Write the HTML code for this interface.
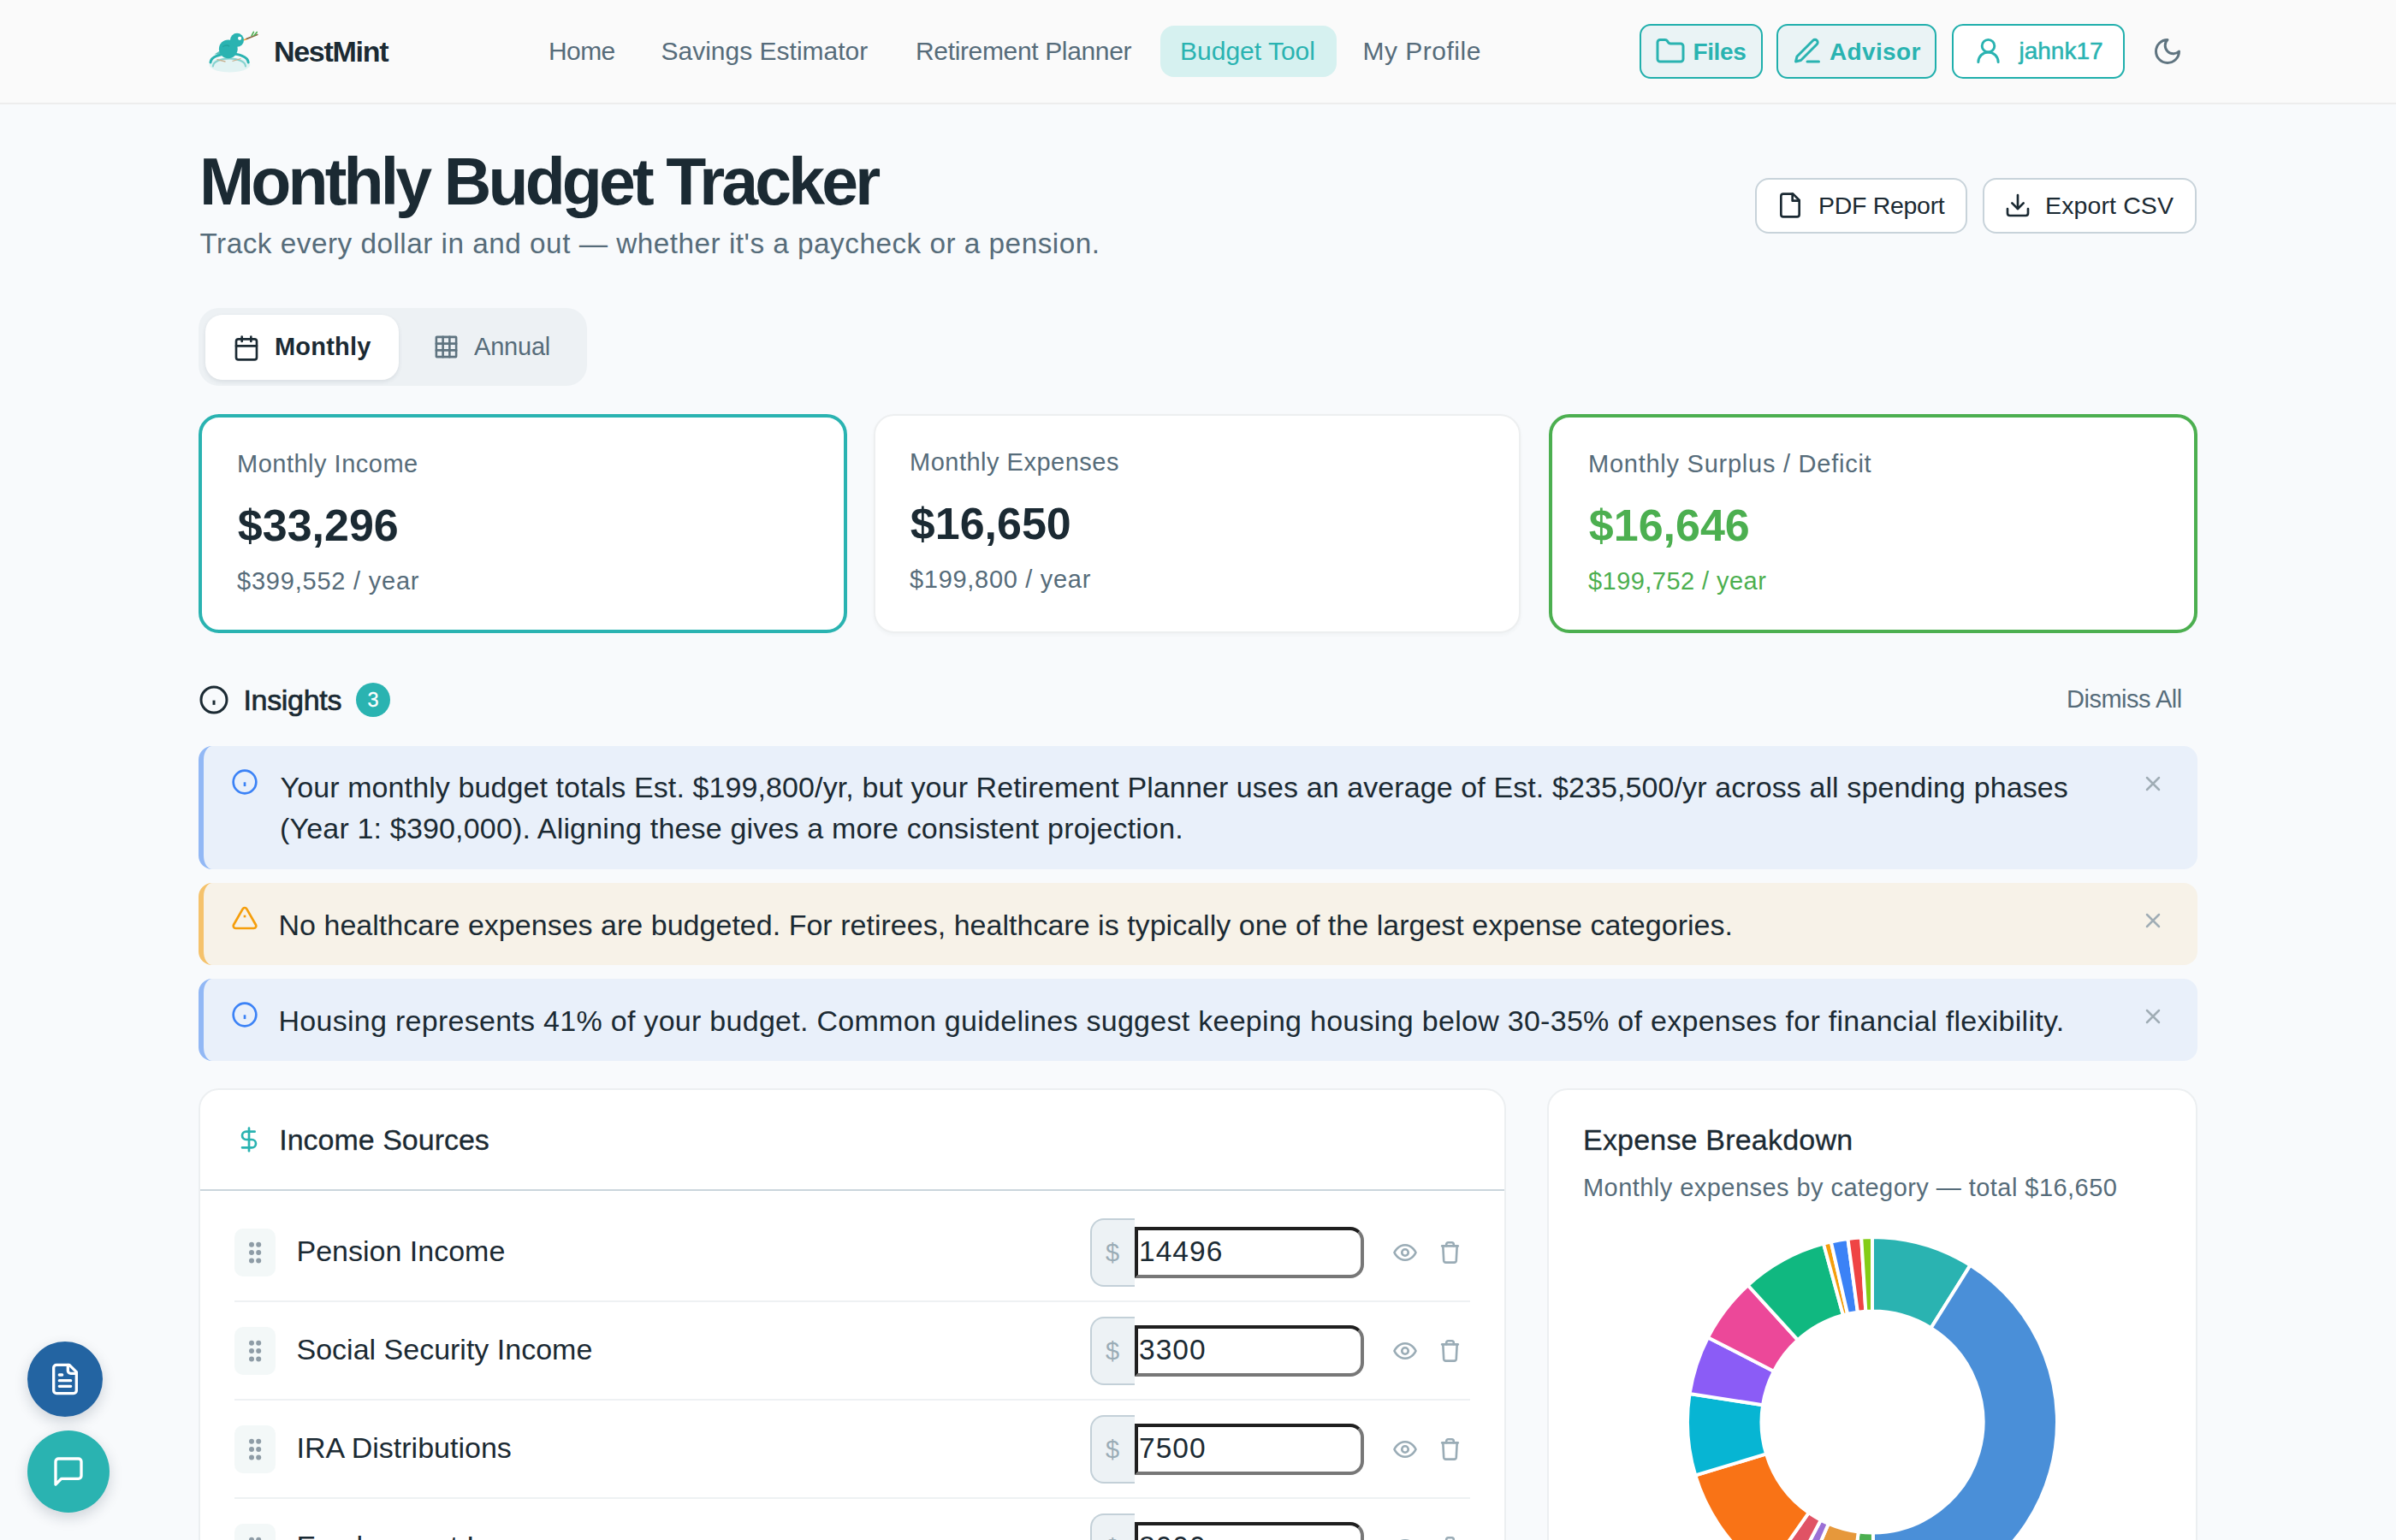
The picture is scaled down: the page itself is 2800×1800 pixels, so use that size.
<!DOCTYPE html>
<html><head><meta charset="utf-8">
<style>
*{box-sizing:border-box;margin:0;padding:0}
html,body{width:2800px;height:1800px;overflow:hidden}
body{background:#f8fafc;font-family:"Liberation Sans", sans-serif;color:#1b2a33;position:relative}
.a{position:absolute;white-space:nowrap;line-height:1}
svg{position:absolute;overflow:visible}
@media (max-width:2000px){html{zoom:0.5}}
</style></head><body>
<div style="position:absolute;left:0px;top:0px;width:2800px;height:120px;background:#fafafa"></div>
<div style="position:absolute;left:0px;top:120px;width:2800px;height:2px;background:#ededed"></div>
<svg style="left:238px;top:30px" width="70" height="60" viewBox="0 0 70 60">
<ellipse cx="30.4" cy="45.8" rx="24" ry="8.6" fill="#e2f3f3"/>
<path d="M10.9 47.5 C11.5 35.5 48.4 35.5 49 47.5" fill="none" stroke="#86d3cf" stroke-width="2.2" stroke-linecap="round"/>
<path d="M15.5 39.5 L25.5 42 M33.5 41.5 L43.5 38.5" stroke="#c9b08f" stroke-width="1.3"/>
<path d="M12.5 33.5 L18.7 29.6 L20 33" fill="#5bbfbb"/>
<path d="M8 42.9 C9 29.5 51.2 29.5 52.2 42.9" fill="none" stroke="#2ab3b1" stroke-width="3" stroke-linecap="round"/>
<circle cx="28.8" cy="27.3" r="10.9" fill="#2ab3b1"/>
<circle cx="39" cy="16.8" r="8" fill="#2ab3b1"/>
<path d="M30 24.2 Q27.3 21.5 22.2 24.5" fill="none" stroke="#22a29f" stroke-width="1.4"/>
<circle cx="42.1" cy="14.8" r="2.1" fill="#fff"/>
<path d="M47 16.8 L50.3 15.6" stroke="#f0a030" stroke-width="1.6"/>
<path d="M50.3 15.3 L62.7 10.5" stroke="#8b6b47" stroke-width="1.8" stroke-linecap="round"/>
<path d="M56.1 11.7 L58.4 7.4 M59.2 11.3 L62.3 7.6" stroke="#4caf50" stroke-width="1.6" stroke-linecap="round"/>
</svg>
<div class="a" style="left:320.0px;top:42.9px;font-size:34px;color:#1b2a33;font-weight:bold;letter-spacing:-1.3px">NestMint</div>
<div style="position:absolute;left:1356px;top:30px;width:206px;height:60px;background:#d6f1f0;border-radius:16px"></div>
<div class="a" style="left:641.0px;top:44.5px;font-size:30px;color:#566c7a;letter-spacing:-0.6px">Home</div>
<div class="a" style="left:772.5px;top:44.5px;font-size:30px;color:#566c7a">Savings Estimator</div>
<div class="a" style="left:1070.0px;top:44.5px;font-size:30px;color:#566c7a;letter-spacing:-0.35px">Retirement Planner</div>
<div class="a" style="left:1379.0px;top:44.5px;font-size:30px;color:#2ab3b1">Budget Tool</div>
<div class="a" style="left:1592.5px;top:44.5px;font-size:30px;color:#566c7a;letter-spacing:0.5px">My Profile</div>
<div style="position:absolute;left:1916px;top:28px;width:144px;height:64px;border:2.2px solid #20afac;border-radius:13px;background:#eaf3f5"></div>
<div style="position:absolute;left:2076px;top:28px;width:187px;height:64px;border:2.2px solid #20afac;border-radius:13px;background:#eaf3f5"></div>
<div style="position:absolute;left:2281px;top:28px;width:202px;height:64px;border:2.2px solid #20afac;border-radius:13px;background:#fff"></div>
<svg style="left:1934px;top:42px" width="36" height="36" viewBox="0 0 24 24" fill="none" stroke="#2ab3b1" stroke-width="2" stroke-linecap="round" stroke-linejoin="round" ><path d="M20 20a2 2 0 0 0 2-2V8a2 2 0 0 0-2-2h-7.9a2 2 0 0 1-1.69-.9L9.6 3.9A2 2 0 0 0 7.93 3H4a2 2 0 0 0-2 2v13a2 2 0 0 0 2 2Z"/></svg>
<div class="a" style="left:1978.5px;top:46.8px;font-size:28px;color:#2ab3b1;font-weight:bold;letter-spacing:-0.4px">Files</div>
<svg style="left:2094px;top:42px" width="36" height="36" viewBox="0 0 24 24" fill="none" stroke="#2ab3b1" stroke-width="2" stroke-linecap="round" stroke-linejoin="round" ><path d="M12 20h9"/><path d="M16.5 3.5a2.12 2.12 0 0 1 3 3L7 19l-4 1 1-4Z"/></svg>
<div class="a" style="left:2138.0px;top:46.8px;font-size:28px;color:#2ab3b1;font-weight:bold;letter-spacing:0.35px">Advisor</div>
<svg style="left:2306px;top:41.5px" width="35" height="35" viewBox="0 0 24 24" fill="none" stroke="#2ab3b1" stroke-width="2" stroke-linecap="round" stroke-linejoin="round" ><circle cx="12" cy="8" r="5"/><path d="M20 21a8 8 0 0 0-16 0"/></svg>
<div class="a" style="left:2359.5px;top:46.3px;font-size:28px;color:#2ab3b1;-webkit-text-stroke:0.5px #2ab3b1">jahnk17</div>
<svg style="left:2515px;top:42px" width="36" height="36" viewBox="0 0 24 24" fill="none" stroke="#5f7480" stroke-width="2" stroke-linecap="round" stroke-linejoin="round" ><path d="M12 3a6 6 0 0 0 9 9 9 9 0 1 1-9-9Z"/></svg>
<div class="a" style="left:233.0px;top:174.4px;font-size:77px;color:#1b2a33;font-weight:bold;letter-spacing:-3.85px">Monthly Budget Tracker</div>
<div class="a" style="left:233.5px;top:267.7px;font-size:33.3px;color:#566c7a;letter-spacing:0.5px">Track every dollar in and out — whether it's a paycheck or a pension.</div>
<div style="position:absolute;left:2051px;top:208px;width:248px;height:65px;background:#fff;border:2px solid #c8d3da;border-radius:16px"></div>
<div style="position:absolute;left:2317px;top:208px;width:250px;height:65px;background:#fff;border:2px solid #c8d3da;border-radius:16px"></div>
<svg style="left:2076px;top:223.5px" width="32" height="32" viewBox="0 0 24 24" fill="none" stroke="#1b2a33" stroke-width="2" stroke-linecap="round" stroke-linejoin="round" ><path d="M14.5 2H6a2 2 0 0 0-2 2v16a2 2 0 0 0 2 2h12a2 2 0 0 0 2-2V7.5L14.5 2z"/><path d="M14 2v6h6"/></svg>
<div class="a" style="left:2125.0px;top:225.7px;font-size:28.5px;color:#1b2a33;letter-spacing:-0.3px">PDF Report</div>
<svg style="left:2342px;top:223.5px" width="32" height="32" viewBox="0 0 24 24" fill="none" stroke="#1b2a33" stroke-width="2" stroke-linecap="round" stroke-linejoin="round" ><path d="M21 15v4a2 2 0 0 1-2 2H5a2 2 0 0 1-2-2v-4"/><path d="M7 10l5 5 5-5"/><path d="M12 15V3"/></svg>
<div class="a" style="left:2390.0px;top:225.7px;font-size:28.5px;color:#1b2a33;letter-spacing:0.12px">Export CSV</div>
<div style="position:absolute;left:232px;top:360px;width:454px;height:91px;background:#edf1f4;border-radius:24px"></div>
<div style="position:absolute;left:240px;top:368px;width:226px;height:76px;background:#fff;border-radius:20px;box-shadow:0 2px 5px rgba(30,50,70,.10)"></div>
<svg style="left:272px;top:391px" width="32" height="32" viewBox="0 0 24 24" fill="none" stroke="#1b2a33" stroke-width="2" stroke-linecap="round" stroke-linejoin="round" ><rect x="3" y="4" width="18" height="18" rx="2"/><path d="M16 2v4M8 2v4M3 10h18"/></svg>
<div class="a" style="left:321.0px;top:391.4px;font-size:29px;color:#1b2a33;font-weight:bold;letter-spacing:0.2px">Monthly</div>
<svg style="left:506.1px;top:390.4px" width="31" height="31" viewBox="0 0 24 24" fill="none" stroke="#5f7480" stroke-width="2" stroke-linecap="round" stroke-linejoin="round" stroke-linecap="butt"><rect x="3" y="3" width="18" height="18" rx="0.5"/><path d="M3 9h18M3 15h18M9 3v18M15 3v18"/></svg>
<div class="a" style="left:554.0px;top:391.4px;font-size:29px;color:#566c7a;letter-spacing:-0.2px">Annual</div>
<div style="position:absolute;left:232px;top:484px;width:758px;height:256px;background:#fff;border:4px solid #2ab3b1;border-radius:24px"></div>
<div style="position:absolute;left:1021px;top:484px;width:756px;height:256px;background:#fff;border:2px solid #edeff0;border-radius:24px;box-shadow:0 2px 4px rgba(30,40,50,.04)"></div>
<div style="position:absolute;left:1810px;top:484px;width:758px;height:256px;background:#fff;border:4px solid #4caf50;border-radius:24px"></div>
<div class="a" style="left:277.0px;top:527.7px;font-size:29px;color:#566c7a;letter-spacing:0.5px">Monthly Income</div>
<div class="a" style="left:277.8px;top:588.1px;font-size:52px;color:#1b2a33;font-weight:bold">$33,296</div>
<div class="a" style="left:277.0px;top:665.4px;font-size:29px;color:#566c7a;letter-spacing:0.78px">$399,552 / year</div>
<div class="a" style="left:1063.0px;top:525.5px;font-size:29px;color:#566c7a;letter-spacing:0.5px">Monthly Expenses</div>
<div class="a" style="left:1063.8px;top:585.9px;font-size:52px;color:#1b2a33;font-weight:bold">$16,650</div>
<div class="a" style="left:1063.0px;top:663.2px;font-size:29px;color:#566c7a;letter-spacing:0.7px">$199,800 / year</div>
<div class="a" style="left:1856.0px;top:527.7px;font-size:29px;color:#566c7a;letter-spacing:0.75px">Monthly Surplus / Deficit</div>
<div class="a" style="left:1856.8px;top:588.1px;font-size:52px;color:#4caf50;font-weight:bold">$16,646</div>
<div class="a" style="left:1856.0px;top:665.4px;font-size:29px;color:#4caf50;letter-spacing:0.45px">$199,752 / year</div>
<svg style="left:232px;top:800px" width="36" height="36" viewBox="0 0 24 24" fill="none" stroke="#1b2a33" stroke-width="2" stroke-linecap="round" stroke-linejoin="round" ><circle cx="12" cy="12" r="10"/><path d="M12 12.4v3.5" stroke-linecap="butt"/></svg>
<div class="a" style="left:284.4px;top:801.1px;font-size:34px;color:#1b2a33;letter-spacing:-0.3px;-webkit-text-stroke:0.7px #1b2a33">Insights</div>
<div style="position:absolute;left:416px;top:798px;width:40px;height:40px;background:#2ab3b1;border-radius:50%"></div>
<div class="a" style="left:429.5px;top:806.5px;font-size:23.5px;color:#fff;-webkit-text-stroke:0.3px #fff">3</div>
<div class="a" style="left:2415.0px;top:803.4px;font-size:29px;color:#566c7a;letter-spacing:-0.5px">Dismiss All</div>
<div style="position:absolute;left:232px;top:872px;width:2336px;height:144px;background:#e9f0fa;border-left:6px solid #92b8f5;border-radius:16px"></div>
<svg style="left:270px;top:898px" width="32" height="32" viewBox="0 0 24 24" fill="none" stroke="#3b82f6" stroke-width="2" stroke-linecap="round" stroke-linejoin="round" ><circle cx="12" cy="12" r="10"/><path d="M12 12.2v3.6" stroke-linecap="butt"/></svg>
<div class="a" style="left:327.5px;top:903.3px;font-size:34px;color:#1b2a33;letter-spacing:0.1px">Your monthly budget totals Est. $199,800/yr, but your Retirement Planner uses an average of Est. $235,500/yr across all spending phases</div>
<div class="a" style="left:327.0px;top:950.9px;font-size:34px;color:#1b2a33;letter-spacing:0.17px">(Year 1: $390,000). Aligning these gives a more consistent projection.</div>
<svg style="left:2502px;top:902px" width="28" height="28" viewBox="0 0 24 24" fill="none" stroke="#a0adb5" stroke-width="2.15" stroke-linecap="round" stroke-linejoin="round" ><path d="M18 6 6 18M6 6l12 12"/></svg>
<div style="position:absolute;left:232px;top:1032px;width:2336px;height:96px;background:#f7f2e8;border-left:6px solid #f5c26b;border-radius:16px"></div>
<svg style="left:270px;top:1057px" width="32" height="32" viewBox="0 0 24 24" fill="none" stroke="#f59e0b" stroke-width="2" stroke-linecap="round" stroke-linejoin="round" ><path d="m21.73 18-8-14a2 2 0 0 0-3.48 0l-8 14A2 2 0 0 0 4 21h16a2 2 0 0 0 1.73-3Z"/><path d="M12 9.5v2" stroke-linecap="butt"/></svg>
<div class="a" style="left:325.5px;top:1063.6px;font-size:34px;color:#1b2a33;letter-spacing:0.02px">No healthcare expenses are budgeted. For retirees, healthcare is typically one of the largest expense categories.</div>
<svg style="left:2502px;top:1062px" width="28" height="28" viewBox="0 0 24 24" fill="none" stroke="#a0adb5" stroke-width="2.15" stroke-linecap="round" stroke-linejoin="round" ><path d="M18 6 6 18M6 6l12 12"/></svg>
<div style="position:absolute;left:232px;top:1144px;width:2336px;height:96px;background:#e9f0fa;border-left:6px solid #92b8f5;border-radius:16px"></div>
<svg style="left:270px;top:1170px" width="32" height="32" viewBox="0 0 24 24" fill="none" stroke="#3b82f6" stroke-width="2" stroke-linecap="round" stroke-linejoin="round" ><circle cx="12" cy="12" r="10"/><path d="M12 12.2v3.6" stroke-linecap="butt"/></svg>
<div class="a" style="left:325.5px;top:1175.6px;font-size:34px;color:#1b2a33;letter-spacing:0.28px">Housing represents 41% of your budget. Common guidelines suggest keeping housing below 30-35% of expenses for financial flexibility.</div>
<svg style="left:2502px;top:1174px" width="28" height="28" viewBox="0 0 24 24" fill="none" stroke="#a0adb5" stroke-width="2.15" stroke-linecap="round" stroke-linejoin="round" ><path d="M18 6 6 18M6 6l12 12"/></svg>
<div style="position:absolute;left:232px;top:1272px;width:1528px;height:700px;background:#fff;border:2px solid #eceff1;border-radius:24px"></div>
<svg style="left:275px;top:1316px" width="32" height="32" viewBox="0 0 24 24" fill="none" stroke="#2ab3b1" stroke-width="2" stroke-linecap="round" stroke-linejoin="round" ><path d="M12 2v20"/><path d="M17 5H9.5a3.5 3.5 0 0 0 0 7h5a3.5 3.5 0 0 1 0 7H6"/></svg>
<div class="a" style="left:326.2px;top:1314.8px;font-size:34px;color:#1b2a33;-webkit-text-stroke:0.3px #1b2a33">Income Sources</div>
<div style="position:absolute;left:234px;top:1390px;width:1524px;height:2px;background:#cad5dc"></div>
<div style="position:absolute;left:274px;top:1436px;width:48px;height:56px;background:#f3f8f8;border-radius:10px"></div>
<svg style="left:284px;top:1448px" width="28" height="32" viewBox="0 0 28 32" fill="#8e9ca6"><circle cx="10" cy="6.7" r="3"/><circle cx="18.2" cy="6.7" r="3"/><circle cx="10" cy="16" r="3"/><circle cx="18.2" cy="16" r="3"/><circle cx="10" cy="25.5" r="3"/><circle cx="18.2" cy="25.5" r="3"/></svg>
<div class="a" style="left:346.5px;top:1445.2px;font-size:34px;color:#1b2a33">Pension Income</div>
<div style="position:absolute;left:1274px;top:1424px;width:52px;height:80px;background:#edf2f5;border:2px solid #c3d0d8;border-right:none;border-radius:16px 0 0 16px"></div>
<div class="a" style="left:1292.0px;top:1449.5px;font-size:29px;color:#9aacb6">$</div>
<div style="position:absolute;left:1326px;top:1434px;width:268px;height:60px;background:#fff;border-style:solid;border-width:4px;border-color:#1f1f1f #777 #777 #1f1f1f;border-radius:0 16px 16px 0"></div>
<div class="a" style="left:1331.0px;top:1445.5px;font-size:33.5px;color:#1b2a33;letter-spacing:1.05px">14496</div>
<svg style="left:1627px;top:1449px" width="30" height="30" viewBox="0 0 24 24" fill="none" stroke="#9aacb6" stroke-width="2.1" stroke-linecap="round" stroke-linejoin="round"><path d="M2 12s3-7 10-7 10 7 10 7-3 7-10 7-10-7-10-7Z"/><circle cx="12" cy="12" r="3"/></svg>
<svg style="left:1683.5px;top:1451.2px" width="21" height="26" viewBox="0 0 21 26" fill="none" stroke="#9aacb6" stroke-width="2.6" stroke-linecap="round" stroke-linejoin="round"><path d="M1.2 5.4H19.8"/><path d="M2.3 5.4 L3.2 22.4 Q3.4 24.6 5.6 24.6 H15.4 Q17.6 24.6 17.8 22.4 L18.7 5.4"/><path d="M6.2 5.2 V3.6 Q6.2 1.3 8.5 1.3 H12.5 Q14.8 1.3 14.8 3.6 V5.2"/></svg>
<div style="position:absolute;left:274px;top:1520px;width:1444px;height:2px;background:#eef1f3"></div>
<div style="position:absolute;left:274px;top:1551px;width:48px;height:56px;background:#f3f8f8;border-radius:10px"></div>
<svg style="left:284px;top:1563px" width="28" height="32" viewBox="0 0 28 32" fill="#8e9ca6"><circle cx="10" cy="6.7" r="3"/><circle cx="18.2" cy="6.7" r="3"/><circle cx="10" cy="16" r="3"/><circle cx="18.2" cy="16" r="3"/><circle cx="10" cy="25.5" r="3"/><circle cx="18.2" cy="25.5" r="3"/></svg>
<div class="a" style="left:346.5px;top:1560.2px;font-size:34px;color:#1b2a33">Social Security Income</div>
<div style="position:absolute;left:1274px;top:1539px;width:52px;height:80px;background:#edf2f5;border:2px solid #c3d0d8;border-right:none;border-radius:16px 0 0 16px"></div>
<div class="a" style="left:1292.0px;top:1564.5px;font-size:29px;color:#9aacb6">$</div>
<div style="position:absolute;left:1326px;top:1549px;width:268px;height:60px;background:#fff;border-style:solid;border-width:4px;border-color:#1f1f1f #777 #777 #1f1f1f;border-radius:0 16px 16px 0"></div>
<div class="a" style="left:1331.0px;top:1560.5px;font-size:33.5px;color:#1b2a33;letter-spacing:1.05px">3300</div>
<svg style="left:1627px;top:1564px" width="30" height="30" viewBox="0 0 24 24" fill="none" stroke="#9aacb6" stroke-width="2.1" stroke-linecap="round" stroke-linejoin="round"><path d="M2 12s3-7 10-7 10 7 10 7-3 7-10 7-10-7-10-7Z"/><circle cx="12" cy="12" r="3"/></svg>
<svg style="left:1683.5px;top:1566.2px" width="21" height="26" viewBox="0 0 21 26" fill="none" stroke="#9aacb6" stroke-width="2.6" stroke-linecap="round" stroke-linejoin="round"><path d="M1.2 5.4H19.8"/><path d="M2.3 5.4 L3.2 22.4 Q3.4 24.6 5.6 24.6 H15.4 Q17.6 24.6 17.8 22.4 L18.7 5.4"/><path d="M6.2 5.2 V3.6 Q6.2 1.3 8.5 1.3 H12.5 Q14.8 1.3 14.8 3.6 V5.2"/></svg>
<div style="position:absolute;left:274px;top:1635px;width:1444px;height:2px;background:#eef1f3"></div>
<div style="position:absolute;left:274px;top:1666px;width:48px;height:56px;background:#f3f8f8;border-radius:10px"></div>
<svg style="left:284px;top:1678px" width="28" height="32" viewBox="0 0 28 32" fill="#8e9ca6"><circle cx="10" cy="6.7" r="3"/><circle cx="18.2" cy="6.7" r="3"/><circle cx="10" cy="16" r="3"/><circle cx="18.2" cy="16" r="3"/><circle cx="10" cy="25.5" r="3"/><circle cx="18.2" cy="25.5" r="3"/></svg>
<div class="a" style="left:346.5px;top:1675.2px;font-size:34px;color:#1b2a33">IRA Distributions</div>
<div style="position:absolute;left:1274px;top:1654px;width:52px;height:80px;background:#edf2f5;border:2px solid #c3d0d8;border-right:none;border-radius:16px 0 0 16px"></div>
<div class="a" style="left:1292.0px;top:1679.5px;font-size:29px;color:#9aacb6">$</div>
<div style="position:absolute;left:1326px;top:1664px;width:268px;height:60px;background:#fff;border-style:solid;border-width:4px;border-color:#1f1f1f #777 #777 #1f1f1f;border-radius:0 16px 16px 0"></div>
<div class="a" style="left:1331.0px;top:1675.5px;font-size:33.5px;color:#1b2a33;letter-spacing:1.05px">7500</div>
<svg style="left:1627px;top:1679px" width="30" height="30" viewBox="0 0 24 24" fill="none" stroke="#9aacb6" stroke-width="2.1" stroke-linecap="round" stroke-linejoin="round"><path d="M2 12s3-7 10-7 10 7 10 7-3 7-10 7-10-7-10-7Z"/><circle cx="12" cy="12" r="3"/></svg>
<svg style="left:1683.5px;top:1681.2px" width="21" height="26" viewBox="0 0 21 26" fill="none" stroke="#9aacb6" stroke-width="2.6" stroke-linecap="round" stroke-linejoin="round"><path d="M1.2 5.4H19.8"/><path d="M2.3 5.4 L3.2 22.4 Q3.4 24.6 5.6 24.6 H15.4 Q17.6 24.6 17.8 22.4 L18.7 5.4"/><path d="M6.2 5.2 V3.6 Q6.2 1.3 8.5 1.3 H12.5 Q14.8 1.3 14.8 3.6 V5.2"/></svg>
<div style="position:absolute;left:274px;top:1750px;width:1444px;height:2px;background:#eef1f3"></div>
<div style="position:absolute;left:274px;top:1781px;width:48px;height:56px;background:#f3f8f8;border-radius:10px"></div>
<svg style="left:284px;top:1793px" width="28" height="32" viewBox="0 0 28 32" fill="#8e9ca6"><circle cx="10" cy="6.7" r="3"/><circle cx="18.2" cy="6.7" r="3"/><circle cx="10" cy="16" r="3"/><circle cx="18.2" cy="16" r="3"/><circle cx="10" cy="25.5" r="3"/><circle cx="18.2" cy="25.5" r="3"/></svg>
<div class="a" style="left:346.5px;top:1790.2px;font-size:34px;color:#1b2a33">Employment Income</div>
<div style="position:absolute;left:1274px;top:1769px;width:52px;height:80px;background:#edf2f5;border:2px solid #c3d0d8;border-right:none;border-radius:16px 0 0 16px"></div>
<div class="a" style="left:1292.0px;top:1794.5px;font-size:29px;color:#9aacb6">$</div>
<div style="position:absolute;left:1326px;top:1779px;width:268px;height:60px;background:#fff;border-style:solid;border-width:4px;border-color:#1f1f1f #777 #777 #1f1f1f;border-radius:0 16px 16px 0"></div>
<div class="a" style="left:1331.0px;top:1790.5px;font-size:33.5px;color:#1b2a33;letter-spacing:1.05px">8000</div>
<svg style="left:1627px;top:1794px" width="30" height="30" viewBox="0 0 24 24" fill="none" stroke="#9aacb6" stroke-width="2.1" stroke-linecap="round" stroke-linejoin="round"><path d="M2 12s3-7 10-7 10 7 10 7-3 7-10 7-10-7-10-7Z"/><circle cx="12" cy="12" r="3"/></svg>
<svg style="left:1683.5px;top:1796.2px" width="21" height="26" viewBox="0 0 21 26" fill="none" stroke="#9aacb6" stroke-width="2.6" stroke-linecap="round" stroke-linejoin="round"><path d="M1.2 5.4H19.8"/><path d="M2.3 5.4 L3.2 22.4 Q3.4 24.6 5.6 24.6 H15.4 Q17.6 24.6 17.8 22.4 L18.7 5.4"/><path d="M6.2 5.2 V3.6 Q6.2 1.3 8.5 1.3 H12.5 Q14.8 1.3 14.8 3.6 V5.2"/></svg>
<div style="position:absolute;left:274px;top:1865px;width:1444px;height:2px;background:#eef1f3"></div>
<div style="position:absolute;left:1808px;top:1272px;width:760px;height:700px;background:#fff;border:2px solid #eceff1;border-radius:24px"></div>
<div class="a" style="left:1850.0px;top:1314.7px;font-size:34px;color:#1b2a33;letter-spacing:0.2px;-webkit-text-stroke:0.3px #1b2a33">Expense Breakdown</div>
<div class="a" style="left:1850.0px;top:1373.5px;font-size:29px;color:#566c7a;letter-spacing:0.45px">Monthly expenses by category — total $16,650</div>
<svg style="left:1972.25px;top:1445.7px" width="432" height="432" viewBox="-216 -216 432 432"><path d="M0.00 -216.00A216 216 0 0 1 114.46 -183.18L68.62 -109.82A129.5 129.5 0 0 0 0.00 -129.50Z" fill="#2ab3b1" stroke="#fff" stroke-width="4" stroke-linejoin="miter"/><path d="M114.46 -183.18A216 216 0 0 1 1.51 215.99L0.90 129.50A129.5 129.5 0 0 0 68.62 -109.82Z" fill="#4a8fd8" stroke="#fff" stroke-width="4" stroke-linejoin="miter"/><path d="M1.51 215.99A216 216 0 0 1 -27.07 214.30L-16.23 128.48A129.5 129.5 0 0 0 0.90 129.50Z" fill="#4caf50" stroke="#fff" stroke-width="4" stroke-linejoin="miter"/><path d="M-27.07 214.30A216 216 0 0 1 -85.44 198.38L-51.22 118.94A129.5 129.5 0 0 0 -16.23 128.48Z" fill="#e6983b" stroke="#fff" stroke-width="4" stroke-linejoin="miter"/><path d="M-85.44 198.38A216 216 0 0 1 -100.41 191.25L-60.20 114.66A129.5 129.5 0 0 0 -51.22 118.94Z" fill="#9b70d6" stroke="#fff" stroke-width="4" stroke-linejoin="miter"/><path d="M-100.41 191.25A216 216 0 0 1 -123.89 176.94L-74.28 106.08A129.5 129.5 0 0 0 -60.20 114.66Z" fill="#e05365" stroke="#fff" stroke-width="4" stroke-linejoin="miter"/><path d="M-123.89 176.94A216 216 0 0 1 -206.78 62.43L-123.97 37.43A129.5 129.5 0 0 0 -74.28 106.08Z" fill="#f97316" stroke="#fff" stroke-width="4" stroke-linejoin="miter"/><path d="M-206.78 62.43A216 216 0 0 1 -213.46 -33.04L-127.98 -19.81A129.5 129.5 0 0 0 -123.97 37.43Z" fill="#07b5d3" stroke="#fff" stroke-width="4" stroke-linejoin="miter"/><path d="M-213.46 -33.04A216 216 0 0 1 -192.11 -98.73L-115.18 -59.19A129.5 129.5 0 0 0 -127.98 -19.81Z" fill="#8b5cf6" stroke="#fff" stroke-width="4" stroke-linejoin="miter"/><path d="M-192.11 -98.73A216 216 0 0 1 -145.37 -159.76L-87.16 -95.78A129.5 129.5 0 0 0 -115.18 -59.19Z" fill="#ec4899" stroke="#fff" stroke-width="4" stroke-linejoin="miter"/><path d="M-145.37 -159.76A216 216 0 0 1 -57.00 -208.34L-34.17 -124.91A129.5 129.5 0 0 0 -87.16 -95.78Z" fill="#10b880" stroke="#fff" stroke-width="4" stroke-linejoin="miter"/><path d="M-57.00 -208.34A216 216 0 0 1 -48.22 -210.55L-28.91 -126.23A129.5 129.5 0 0 0 -34.17 -124.91Z" fill="#f59e0b" stroke="#fff" stroke-width="4" stroke-linejoin="miter"/><path d="M-48.22 -210.55A216 216 0 0 1 -28.57 -214.10L-17.13 -128.36A129.5 129.5 0 0 0 -28.91 -126.23Z" fill="#3b82f6" stroke="#fff" stroke-width="4" stroke-linejoin="miter"/><path d="M-28.57 -214.10A216 216 0 0 1 -12.81 -215.62L-7.68 -129.27A129.5 129.5 0 0 0 -17.13 -128.36Z" fill="#ef4444" stroke="#fff" stroke-width="4" stroke-linejoin="miter"/><path d="M-12.81 -215.62A216 216 0 0 1 -0.00 -216.00L-0.00 -129.50A129.5 129.5 0 0 0 -7.68 -129.27Z" fill="#84cc16" stroke="#fff" stroke-width="4" stroke-linejoin="miter"/></svg>
<div style="position:absolute;left:32px;top:1568px;width:88px;height:88px;background:#2364a2;border-radius:50%;box-shadow:0 6px 16px rgba(20,40,60,.18)"></div>
<svg style="left:56px;top:1592px" width="40" height="40" viewBox="0 0 24 24" fill="none" stroke="#fff" stroke-width="2" stroke-linecap="round" stroke-linejoin="round" ><path d="M15 2H6a2 2 0 0 0-2 2v16a2 2 0 0 0 2 2h12a2 2 0 0 0 2-2V7Z"/><path d="M14 2v4a2 2 0 0 0 2 2h4"/><path d="M10 9H8M16 13H8M16 17H8"/></svg>
<div style="position:absolute;left:32px;top:1672px;width:96px;height:96px;background:#2ab3b1;border-radius:50%;box-shadow:0 6px 16px rgba(20,40,60,.18)"></div>
<svg style="left:60px;top:1700px" width="40" height="40" viewBox="0 0 24 24" fill="none" stroke="#fff" stroke-width="2" stroke-linecap="round" stroke-linejoin="round" ><path d="M21 15a2 2 0 0 1-2 2H7l-4 4V5a2 2 0 0 1 2-2h14a2 2 0 0 1 2 2z"/></svg>
</body></html>
